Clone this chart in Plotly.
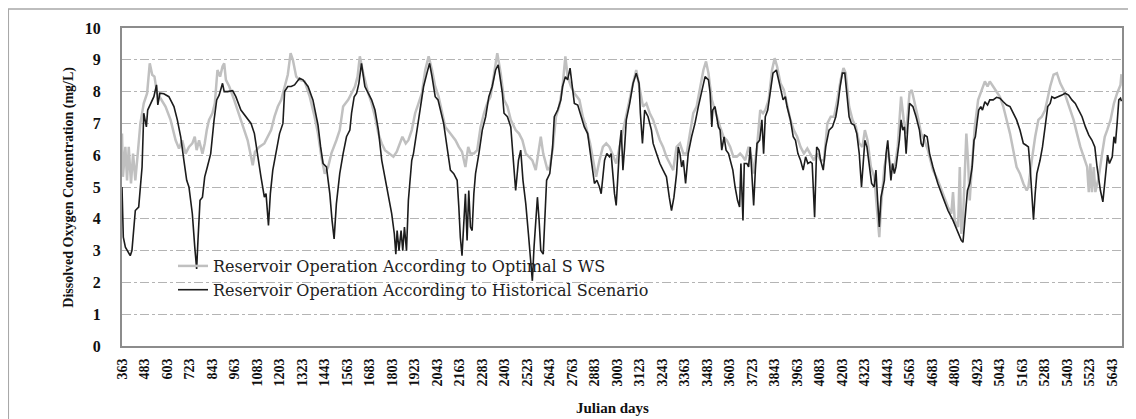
import plotly.graph_objects as go

# ---- data ----
x_tick_labels = [363, 483, 603, 723, 843, 963, 1083, 1203, 1323, 1443, 1563, 1683, 1803,
                 1923, 2043, 2163, 2283, 2403, 2523, 2643, 2763, 2883, 3003, 3123, 3243,
                 3363, 3483, 3603, 3723, 3843, 3963, 4083, 4203, 4323, 4443, 4563, 4683,
                 4803, 4923, 5043, 5163, 5283, 5403, 5523, 5643]

# Reservoir Operation According to Historical Scenario (black)
hist_days = [363, 370, 381, 407, 416, 434, 452, 470, 479, 493, 500, 515, 533, 547, 554, 565,
             586, 613, 640, 658, 676, 693, 708, 720, 738, 751, 761, 768, 779, 792, 804, 818,
             836, 854, 868, 881, 899, 908, 926, 953, 970, 997, 1024, 1051, 1069, 1087, 1104,
             1122, 1131, 1144, 1154, 1167, 1185, 1203, 1221, 1230, 1247, 1265, 1283, 1310,
             1328, 1355, 1381, 1408, 1422, 1435, 1453, 1471, 1483, 1494, 1506, 1524, 1542,
             1560, 1578, 1587, 1601, 1614, 1626, 1640, 1658, 1676, 1694, 1712, 1730, 1748,
             1765, 1783, 1801, 1815, 1823, 1830, 1840, 1851, 1860, 1869, 1880, 1890, 1899,
             1908, 1917, 1935, 1953, 1971, 1989, 2003, 2016, 2033, 2048, 2060, 2078, 2096,
             2114, 2132, 2150, 2159, 2167, 2176, 2185, 2194, 2203, 2212, 2221, 2230, 2239,
             2248, 2266, 2284, 2302, 2319, 2337, 2355, 2369, 2382, 2391, 2400, 2418, 2436,
             2453, 2462, 2477, 2489, 2501, 2516, 2530, 2543, 2551, 2560, 2569, 2578, 2587,
             2596, 2609, 2619, 2627, 2644, 2659, 2668, 2686, 2703, 2712, 2727, 2739, 2752,
             2762, 2775, 2793, 2811, 2828, 2846, 2855, 2864, 2873, 2882, 2895, 2909, 2918,
             2927, 2936, 2948, 2962, 2971, 2980, 2989, 2998, 3007, 3016, 3025, 3034, 3043,
             3052, 3070, 3079, 3088, 3105, 3120, 3127, 3138, 3150, 3168, 3186, 3195, 3213,
             3231, 3248, 3266, 3281, 3293, 3306, 3320, 3329, 3338, 3347, 3356, 3368, 3382,
             3400, 3418, 3436, 3454, 3472, 3490, 3499, 3508, 3513, 3525, 3543, 3552, 3561,
             3573, 3584, 3597, 3606, 3620, 3632, 3645, 3656, 3663, 3674, 3681, 3695, 3704,
             3713, 3722, 3731, 3740, 3749, 3763, 3775, 3784, 3793, 3806, 3820, 3834, 3852,
             3865, 3877, 3888, 3900, 3909, 3927, 3942, 3954, 3967, 3981, 3995, 4008, 4020,
             4034, 4043, 4056, 4067, 4079, 4088, 4102, 4115, 4133, 4151, 4169, 4181, 4192,
             4204, 4217, 4227, 4240, 4252, 4267, 4281, 4294, 4306, 4317, 4324, 4335, 4347,
             4360, 4374, 4383, 4392, 4401, 4410, 4419, 4428, 4437, 4446, 4454, 4463, 4472,
             4481, 4490, 4499, 4508, 4517, 4526, 4535, 4544, 4553, 4562, 4580, 4597, 4615,
             4624, 4633, 4642, 4656, 4669, 4687, 4713, 4740, 4767, 4794, 4821, 4838, 4847,
             4856, 4871, 4883, 4896, 4906, 4913, 4924, 4931, 4942, 4951, 4964, 4978, 4990,
             5008, 5026, 5044, 5062, 5080, 5098, 5115, 5133, 5151, 5169, 5182, 5196, 5205,
             5214, 5223, 5232, 5241, 5258, 5271, 5285, 5299, 5312, 5321, 5335, 5357, 5375,
             5392, 5410, 5428, 5446, 5464, 5482, 5500, 5518, 5535, 5550, 5562, 5580, 5593,
             5603, 5610, 5618, 5628, 5643, 5652, 5660, 5669, 5678, 5687, 5692]
hist_do = [5.0, 3.42, 3.11, 2.84, 3.0, 4.26, 4.37, 5.63, 7.32, 6.89, 7.42, 7.63, 7.84, 8.21, 7.58, 7.95,
           7.93, 7.84, 7.53, 7.11, 6.58, 5.84, 5.21, 5.0, 4.16, 3.11, 2.42, 3.32, 4.58, 4.68, 5.32, 5.63,
           6.05, 7.11, 7.74, 7.89, 8.26, 8.0, 8.0, 8.03, 7.84, 7.42, 7.21, 7.0, 6.68, 6.05, 5.32,
           4.68, 4.79, 3.79, 4.79, 5.53, 6.05, 6.68, 7.0, 8.0, 8.16, 8.16, 8.21, 8.42,
           8.37, 8.16, 7.74, 6.95, 6.26, 5.74, 5.63, 4.79, 3.95, 3.37, 4.47, 5.42, 6.05,
           6.58, 6.79, 7.32, 7.84, 7.95, 8.26, 8.89, 8.16, 7.95, 7.74, 7.42, 6.79, 5.84,
           5.32, 4.79, 4.16, 3.53, 2.89, 3.63, 3.0, 3.63, 3.0, 3.74, 3.0, 4.58, 5.32,
           5.84, 6.05, 6.79, 7.53, 8.16, 8.58, 8.89, 8.47, 7.84, 7.74, 7.42, 7.0, 6.26,
           5.53, 5.42, 5.21, 4.37, 3.42, 2.84, 4.05, 4.79, 3.32, 4.89, 3.74, 3.63, 4.79,
           5.42, 6.05, 6.79, 7.21, 7.84, 8.16, 8.68, 8.84, 8.37, 7.95, 7.32, 7.21, 6.89,
           5.63, 4.89, 5.84, 6.16, 5.21, 4.47, 3.53, 2.68, 2.05, 3.11, 3.95, 4.68, 3.95,
           3.0, 2.89, 3.95, 5.21, 5.42, 6.26, 7.21, 7.42, 7.74, 8.16, 8.47, 8.37, 8.74,
           8.16, 7.63, 7.58, 7.21, 6.89, 6.68, 6.26, 5.84, 5.53, 5.11, 5.21, 5.0, 4.79,
           5.32, 5.84, 6.05, 5.95, 6.05, 5.32, 4.79, 4.42, 5.53, 6.26, 6.79, 5.53, 6.26,
           7.11, 7.63, 7.95, 8.26, 8.58, 8.26, 7.32, 6.37, 7.42, 7.21, 6.79, 6.37, 6.05,
           5.74, 5.53, 5.32, 4.68, 4.26, 4.68, 5.42, 6.26, 6.05, 5.63, 5.84, 5.11, 6.05,
           6.58, 7.0, 7.53, 8.05, 8.47, 8.37, 7.95, 6.89, 7.42, 7.53, 6.89, 6.79, 6.16,
           6.58, 6.16, 6.05, 5.84, 5.53, 5.0, 4.58, 4.37, 5.74, 3.95, 5.74, 5.74, 5.63,
           6.26, 5.32, 4.42, 5.53, 6.37, 6.47, 7.11, 6.05, 7.21, 7.42, 8.05, 8.58, 8.68,
           8.37, 8.05, 7.74, 7.84, 7.53, 7.11, 6.58, 6.47, 6.05, 5.84, 5.53, 5.95, 5.74,
           5.79, 5.74, 4.05, 6.26, 6.16, 5.84, 5.53, 6.26, 6.79, 6.89, 7.21, 7.63, 8.16,
           8.58, 8.58, 7.95, 7.21, 7.0, 6.95, 6.68, 6.05, 5.0, 5.84, 6.47, 6.26, 5.63,
           5.11, 5.0, 5.53, 4.58, 3.74, 4.68, 5.0, 5.21, 6.05, 6.47, 5.84, 5.21, 5.74,
           5.42, 5.63, 6.05, 6.47, 7.11, 6.79, 6.89, 6.05, 6.89, 7.63, 7.53, 7.21, 6.79,
           6.37, 6.26, 6.63, 6.58, 6.05, 5.63, 5.11, 4.68, 4.26, 3.95, 3.58, 3.32, 3.26,
           3.95, 4.89, 5.11, 5.63, 6.47, 6.58, 7.11, 7.42, 7.53, 7.42, 7.68, 7.58, 7.74,
           7.74, 7.82, 7.79, 7.68, 7.58, 7.53, 7.32, 7.11, 6.79, 6.37, 6.32, 6.26, 5.63,
           4.79, 3.97, 4.79, 5.42, 5.84, 6.26, 6.89, 7.53, 7.63, 7.84, 7.79, 7.84, 7.89,
           7.95, 7.89, 7.74, 7.63, 7.42, 7.21, 6.89, 6.63, 6.47, 6.26, 5.63, 4.89, 4.53,
           5.11, 5.53, 6.0, 5.74, 5.95, 6.58, 6.37, 7.0, 7.74, 7.79, 7.7]

# Reservoir Operation According to Optimal SWS (grey)
sws_days = [363, 368, 381, 390, 399, 411, 422, 434, 447, 461, 479, 497, 511, 524, 536, 550,
            568, 595, 622, 649, 667, 684, 702, 720, 738, 751, 761, 774, 792, 804, 815, 827,
            845, 858, 872, 886, 899, 908, 917, 935, 961, 979, 997, 1015, 1033, 1051, 1060,
            1072, 1095, 1122, 1140, 1158, 1176, 1194, 1212, 1230, 1247, 1262, 1274, 1292,
            1310, 1337, 1364, 1390, 1408, 1426, 1444, 1462, 1479, 1506, 1524, 1542, 1569,
            1587, 1605, 1619, 1631, 1649, 1676, 1694, 1712, 1730, 1748, 1765, 1792, 1810,
            1828, 1846, 1858, 1876, 1890, 1908, 1926, 1944, 1962, 1980, 1998, 2016, 2033,
            2051, 2069, 2087, 2114, 2141, 2159, 2176, 2194, 2209, 2221, 2239, 2257, 2275,
            2293, 2310, 2328, 2346, 2364, 2382, 2400, 2418, 2436, 2462, 2480, 2498, 2516,
            2534, 2551, 2569, 2584, 2596, 2609, 2619, 2632, 2644, 2659, 2677, 2694, 2712,
            2727, 2739, 2757, 2775, 2802, 2820, 2837, 2859, 2877, 2891, 2909, 2927, 2945,
            2962, 2977, 2998, 3016, 3034, 3052, 3070, 3088, 3105, 3123, 3141, 3159, 3177,
            3195, 3213, 3231, 3248, 3266, 3284, 3302, 3320, 3338, 3356, 3374, 3391, 3409,
            3427, 3445, 3463, 3477, 3490, 3508, 3534, 3552, 3570, 3588, 3606, 3623, 3641,
            3659, 3674, 3686, 3704, 3722, 3731, 3749, 3766, 3781, 3793, 3811, 3829, 3843,
            3856, 3874, 3892, 3909, 3927, 3945, 3963, 3981, 3999, 4017, 4034, 4052, 4070,
            4088, 4106, 4124, 4142, 4160, 4177, 4195, 4210, 4222, 4240, 4258, 4276, 4294,
            4311, 4324, 4338, 4356, 4374, 4392, 4401, 4410, 4428, 4446, 4463, 4481, 4499,
            4517, 4531, 4544, 4562, 4574, 4588, 4606, 4624, 4642, 4660, 4687, 4713, 4740,
            4767, 4785, 4794, 4803, 4821, 4830, 4838, 4847, 4856, 4865, 4874, 4883, 4892,
            4910, 4928, 4946, 4964, 4978, 4990, 5008, 5026, 5044, 5062, 5080, 5098, 5115,
            5133, 5151, 5169, 5187, 5196, 5214, 5232, 5249, 5267, 5285, 5299, 5312, 5330,
            5348, 5366, 5384, 5401, 5419, 5437, 5455, 5473, 5491, 5509, 5518, 5526, 5535,
            5544, 5553, 5571, 5589, 5603, 5616, 5634, 5652, 5669, 5687, 5692]
sws_do = [6.68, 5.32, 6.26, 5.21, 6.26, 5.11, 6.05, 5.21, 6.05, 7.0, 7.63, 7.95, 8.89, 8.53, 8.47, 7.95,
          7.79, 7.53, 7.11, 6.47, 6.21, 6.47, 6.05, 6.26, 6.37, 6.58, 6.16, 6.47, 6.05, 6.37, 6.79, 7.11,
          7.32, 7.63, 8.68, 8.47, 8.79, 8.89, 8.37, 8.16, 7.74, 7.42, 7.11, 6.79, 6.47, 5.95, 5.68,
          6.11, 6.26, 6.37, 6.58, 6.79, 7.21, 7.53, 7.74, 8.16, 8.53, 9.21, 9.0, 8.47,
          8.37, 8.32, 7.84, 7.21, 6.68, 5.95, 5.42, 5.63, 6.05, 6.47, 6.79, 7.53, 7.74,
          7.95, 8.16, 8.47, 9.11, 8.58, 7.95, 7.63, 7.21, 6.68, 6.37, 6.16, 6.05, 5.95,
          6.11, 6.37, 6.58, 6.37, 6.47, 6.79, 7.32, 7.63, 7.95, 8.68, 9.11, 8.68, 8.16,
          7.84, 7.32, 6.89, 6.68, 6.47, 6.26, 6.11, 5.63, 6.26, 6.05, 6.05, 6.16, 6.89,
          7.32, 7.63, 7.84, 8.58, 9.21, 8.58, 7.74, 7.53, 7.11, 6.79, 6.68, 6.47, 6.05,
          5.95, 5.84, 5.53, 6.05, 6.58, 6.05, 5.84, 5.53, 5.63, 6.16, 7.21, 7.53, 8.16,
          9.11, 8.47, 8.16, 7.95, 7.74, 7.21, 6.89, 6.37, 5.74, 5.32, 5.84, 6.26, 6.37,
          6.26, 6.05, 5.74, 6.26, 6.79, 7.21, 7.74, 8.26, 8.68, 8.16, 7.53, 7.63, 7.32,
          7.11, 6.79, 6.47, 6.26, 5.95, 5.74, 5.53, 6.26, 6.37, 6.05, 6.05, 6.68, 7.32,
          7.53, 8.16, 8.68, 8.95, 8.58, 7.74, 7.21, 6.89, 6.58, 6.47, 6.26, 5.95, 5.95,
          6.05, 5.95, 5.84, 6.26, 5.84, 5.42, 6.26, 7.42, 7.32, 7.42, 7.74, 8.68, 9.05,
          8.79, 8.26, 8.05, 7.63, 7.11, 6.79, 6.58, 6.26, 6.05, 6.21, 6.05, 5.84, 6.05,
          5.84, 5.84, 7.0, 7.21, 7.21, 7.74, 8.37, 8.74, 8.58, 7.53, 7.11, 6.89, 6.37,
          6.26, 6.79, 6.47, 5.63, 5.32, 4.16, 3.42, 4.37, 5.63, 6.16, 5.63, 5.53, 6.26,
          7.84, 7.11, 6.68, 7.95, 8.05, 7.63, 7.21, 6.68, 6.47, 6.16, 5.53, 5.21, 4.79,
          4.37, 4.16, 4.84, 3.95, 3.74, 5.63, 3.53, 3.95, 5.21, 6.68, 5.84, 4.58, 5.42,
          6.89, 7.74, 8.05, 8.32, 8.16, 8.32, 8.16, 8.0, 7.84, 7.53, 7.11, 6.68, 6.16,
          5.63, 5.42, 5.11, 4.89, 5.0, 5.84, 6.58, 7.11, 7.21, 7.42, 7.84, 8.16, 8.53,
          8.58, 8.26, 8.05, 7.74, 7.42, 7.11, 6.68, 6.26, 5.95, 5.63, 4.84, 5.74, 4.84,
          5.63, 4.84, 5.32, 6.05, 6.58, 6.79, 7.11, 7.63, 7.95, 8.21, 8.55]

y_ticks = [0, 1, 2, 3, 4, 5, 6, 7, 8, 9, 10]

serif = "Liberation Serif"

fig = go.Figure()
fig.add_trace(go.Scatter(
    x=sws_days, y=sws_do, mode="lines",
    name="Reservoir Operation According to Optimal S WS",
    line=dict(color="#c0c0c0", width=2.5),
    legendgroup="a",
))
fig.add_trace(go.Scatter(
    x=hist_days, y=hist_do, mode="lines",
    name="Reservoir Operation According to Historical Scenario",
    line=dict(color="#1c1c1c", width=1.6),
    legendgroup="b",
))

# The page body adds an 8 px offset, so the figure is 8 px smaller and margins shifted.
fig.update_layout(
    width=1128, height=411,
    margin=dict(l=114, r=12, t=20, b=73),
    paper_bgcolor="white", plot_bgcolor="white",
    showlegend=True,
    legend=dict(
        x=0.051, y=0.305, xanchor="left", yanchor="top",
        bgcolor="rgba(0,0,0,0)",
        font=dict(family="DejaVu Serif", size=16, color="#222"),
        tracegroupgap=0,
    ),
    xaxis=dict(
        range=[363, 5695],
        tickmode="array",
        tickvals=x_tick_labels,
        ticktext=[str(v) for v in x_tick_labels],
        tickangle=-90,
        tickfont=dict(family=serif, size=14, color="#111", weight="bold"),
        showgrid=False, zeroline=False,
        showline=True, linecolor="#8c8c8c", linewidth=2, mirror=True,
        ticks="", ticklabelstandoff=5,
    ),
    yaxis=dict(
        range=[0, 10],
        tickmode="array",
        tickvals=y_ticks,
        tickfont=dict(family=serif, size=16, color="#111", weight="bold"),
        showgrid=True, gridcolor="#b4b4b4", gridwidth=1, griddash="dashdot",
        zeroline=False,
        showline=True, linecolor="#8c8c8c", linewidth=2, mirror=True,
        ticks="", ticklabelstandoff=16,
    ),
    annotations=[
        dict(text="Dissolved Oxygen Concentration (mg/L)", xref="paper", yref="paper",
             x=-0.0533, y=0.5, xanchor="center", yanchor="middle", textangle=-90,
             showarrow=False, font=dict(family=serif, size=14, color="#111", weight="bold")),
        dict(text="Julian days", xref="paper", yref="paper",
             x=0.49, y=-0.195, xanchor="center", yanchor="middle",
             showarrow=False, font=dict(family=serif, size=15, color="#111", weight="bold")),
    ],
    shapes=[
        dict(type="rect", xref="paper", yref="paper",
             x0=-0.1137, x1=1.0171, y0=-0.35, y1=1.0597,
             line=dict(color="#a8a8a8", width=1.5), layer="below"),
    ],
)

fig.write_html("out.html")
